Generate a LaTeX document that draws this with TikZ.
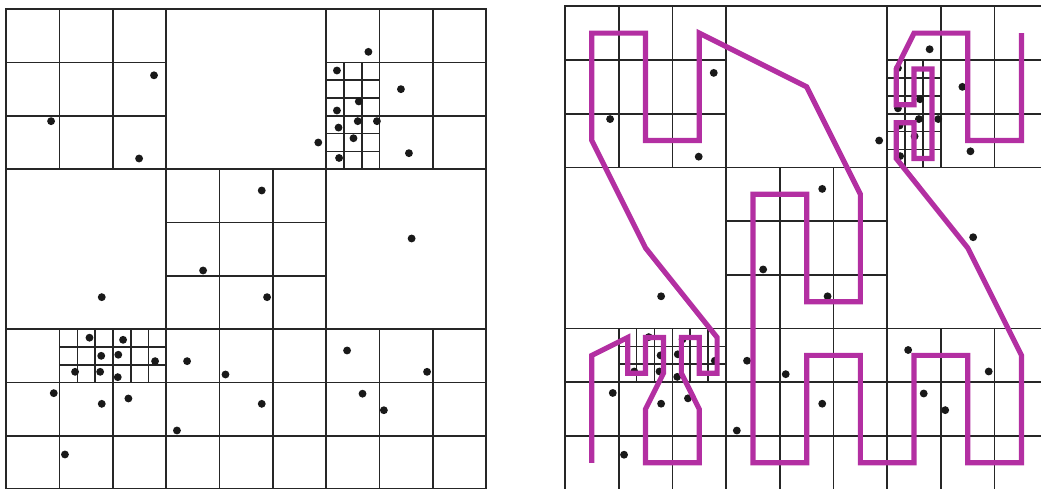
\documentclass[tikz,border=0pt]{standalone}
\usepackage{tikz}
\usepackage{xcolor}
\definecolor{okLine}{HTML}{262626}
\definecolor{okMagenta}{HTML}{B32FA2}
\tikzset{
  cellline/.style={draw=okLine, line width=1.3pt},
  peano/.style={draw=okMagenta, line width=3.9pt, line join=miter},
  dot/.style={circle, fill=black!90, inner sep=0pt, minimum size=5.9pt},
}
% the 9x9 quadtree-like subdivision, one panel
\newcommand{\quadcells}{%
  \draw[cellline] (0,0) rectangle (9,9);
  \foreach \k in {3,6} {
    \draw[cellline] (\k,0) -- (\k,9);
    \draw[cellline] (0,\k) -- (9,\k);
  }
  \foreach \bx/\by in {0/0, 6/0, 3/3, 0/6, 3/6, 6/6}
    \foreach \k in {1,2} {
      \draw[cellline] ({\bx+\k},\by) -- ({\bx+\k},{\by+3});
      \draw[cellline] (\bx,{\by+\k}) -- ({\bx+3},{\by+\k});
    }
  \foreach \cx/\cy in {6/1, 6/2, 1/6, 2/6}
    \foreach \k in {1,2} {
      \draw[cellline] ({\cx+\k/3},\cy) -- ({\cx+\k/3},{\cy+1});
      \draw[cellline] (\cx,{\cy+\k/3}) -- ({\cx+1},{\cy+\k/3});
    }
}
\newcommand{\samplepts}{2.77/1.24, 0.84/2.10, 2.49/2.80, 6.79/0.80, 6.20/1.15,
  7.40/1.50, 6.61/1.73, 6.20/1.90, 6.59/2.10, 6.95/2.10, 6.23/2.22, 6.51/2.42,
  5.85/2.50, 7.55/2.70, 6.24/2.79, 4.79/3.40, 7.60/4.30, 3.69/4.90, 4.89/5.40,
  1.79/5.40, 1.56/6.16, 2.19/6.20, 1.78/6.50, 2.10/6.48, 2.79/6.60, 1.29/6.80,
  1.76/6.80, 2.09/6.90, 0.89/7.20, 2.29/7.30, 3.39/6.60, 4.11/6.85, 6.39/6.40,
  7.89/6.80, 6.68/7.21, 4.79/7.40, 7.08/7.52, 3.20/7.90, 1.10/8.35, 1.79/7.40}

\begin{document}
\begin{tikzpicture}[x=40pt, y=-40pt]
  \useasboundingbox (0,0) rectangle (19.52,9.169);
  % points only
  \begin{scope}[shift={(0.118,0.172)}]
    \quadcells
    \foreach \x/\y [count=\i] in \samplepts
      \node[dot] (l-\i) at (\x,\y) {};
  \end{scope}
  % points with the curve
  \begin{scope}[shift={(10.594,0.118)}, scale=1.007]
    \quadcells
    \foreach \x/\y [count=\i] in \samplepts
      \node[dot] (r-\i) at (\x,\y) {};
    \draw[peano] (0.5,8.5) -- (0.5,6.5) -- (1.167,6.167) -- (1.167,6.833)
      -- (1.5,6.833) -- (1.5,6.167) -- (1.833,6.167) -- (1.833,6.833)
      -- (1.5,7.5) -- (1.5,8.5) -- (2.5,8.5) -- (2.5,7.5) -- (2.167,6.833)
      -- (2.167,6.167) -- (2.5,6.167) -- (2.5,6.833) -- (2.833,6.833)
      -- (2.833,6.167) -- (1.5,4.5) -- (0.5,2.5) -- (0.5,0.5) -- (1.5,0.5)
      -- (1.5,2.5) -- (2.5,2.5) -- (2.5,0.5) -- (4.5,1.5) -- (5.5,3.5)
      -- (5.5,5.5) -- (4.5,5.5) -- (4.5,3.5) -- (3.5,3.5) -- (3.5,8.5)
      -- (4.5,8.5) -- (4.5,6.5) -- (5.5,6.5) -- (5.5,8.5) -- (6.5,8.5)
      -- (6.5,6.5) -- (7.5,6.5) -- (7.5,8.5) -- (8.5,8.5) -- (8.5,6.5)
      -- (7.5,4.5) -- (6.167,2.833) -- (6.167,2.167) -- (6.5,2.167)
      -- (6.5,2.833) -- (6.833,2.833) -- (6.833,1.167) -- (6.5,1.167)
      -- (6.5,1.833) -- (6.167,1.833) -- (6.167,1.167) -- (6.5,0.5)
      -- (7.5,0.5) -- (7.5,2.5) -- (8.5,2.5) -- (8.5,0.5);
  \end{scope}
\end{tikzpicture}
\end{document}
